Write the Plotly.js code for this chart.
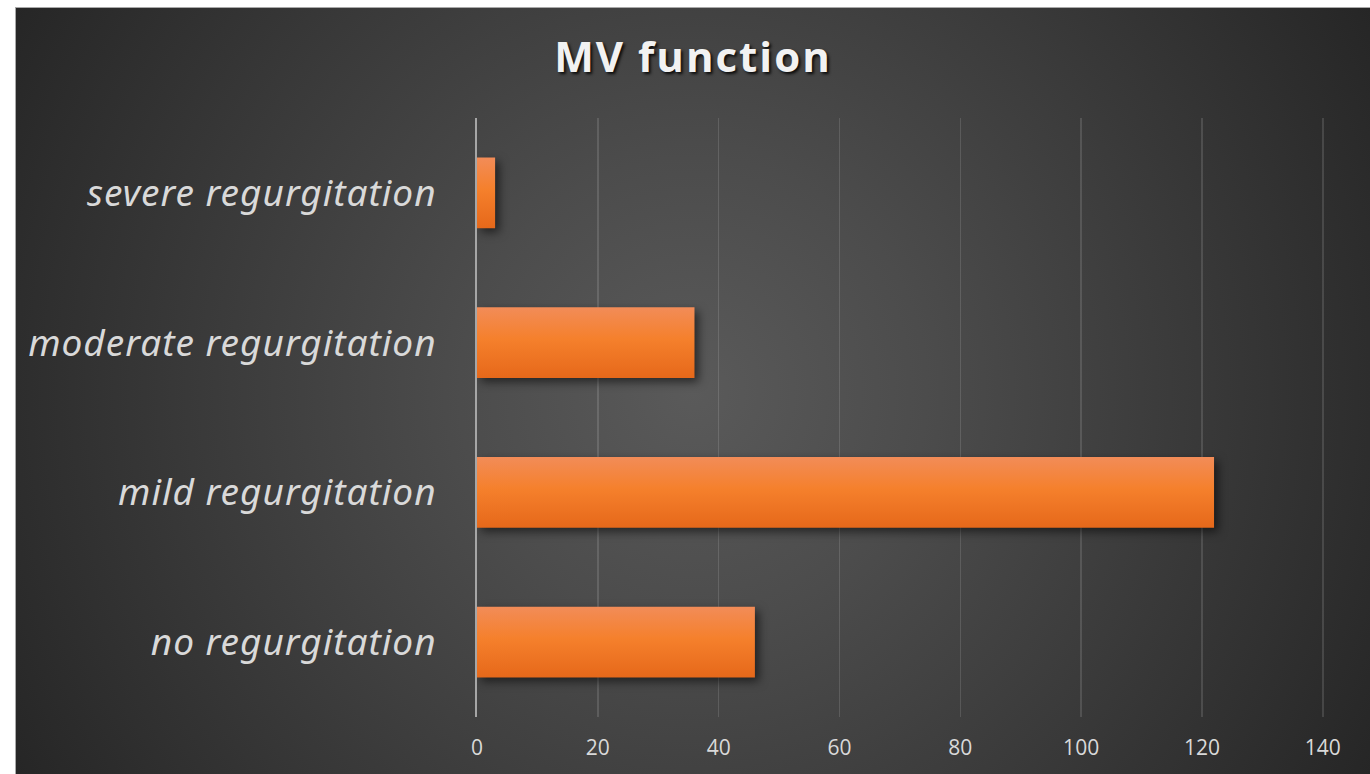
<!DOCTYPE html>
<html>
<head>
<meta charset="utf-8">
<script src="https://cdn.plot.ly/plotly-3.0.1.min.js"></script>
<style>
  html, body { margin: 0; padding: 0; background: #ffffff; width: 1370px; height: 774px; overflow: hidden; }
  #frame {
    position: absolute; left: 15px; top: 7px; width: 1355px; height: 767px;
    box-sizing: border-box; border-top: 1px solid #a9a9a9; border-left: 1px solid #a9a9a9;
    background: radial-gradient(circle farthest-corner at 50% 50%, #5a5a5a 0%, #4c4c4c 30%, #262626 100%);
  }
  #chart { width: 1354px; height: 766px; }
  .gtitle { letter-spacing: 2px; }
  .ytick text { letter-spacing: 1px; }
  .barlayer .point path { filter: drop-shadow(4px 4px 5px rgba(0,0,0,0.55)); }
</style>
</head>
<body>
<div id="frame"><div id="chart"></div></div>
<script>
const categories = ['no regurgitation', 'mild regurgitation', 'moderate regurgitation', 'severe regurgitation'];
const values = [46, 122, 36, 3];
const xTicks = [0, 20, 40, 60, 80, 100, 120, 140];
const chartTitle = 'MV function';

const trace = {
  type: 'bar',
  orientation: 'h',
  y: categories,
  x: values,
  marker: { color: '#f47f2a', line: { width: 0 } },
  hoverinfo: 'none'
};

const layout = {
  width: 1354,
  height: 766,
  paper_bgcolor: 'rgba(0,0,0,0)',
  plot_bgcolor: 'rgba(0,0,0,0)',
  margin: { l: 461, r: 46, t: 109.5, b: 56.5, pad: 0 },
  bargap: 0.527,
  showlegend: false,
  title: {
    text: chartTitle,
    x: 0.5, xanchor: 'center',
    y: 0.936, yanchor: 'middle',
    font: { family: 'Open Sans, sans-serif', size: 42, weight: 700, color: '#f2f2f2', shadow: '2px 2px 3px rgba(0,0,0,0.85)' }
  },
  xaxis: {
    range: [0, 140.2],
    tickvals: xTicks,
    ticktext: xTicks.map(String),
    showgrid: true,
    gridcolor: 'rgba(255,255,255,0.13)',
    gridwidth: 1.5,
    zeroline: false,
    showline: false,
    ticks: '',
    ticklabelstandoff: 16,
    tickfont: { family: 'Open Sans, sans-serif', size: 21, color: '#d9d9d9' },
    fixedrange: true
  },
  yaxis: {
    type: 'category',
    categoryorder: 'array',
    categoryarray: categories,
    range: [-0.5, 3.5],
    showgrid: false,
    zeroline: false,
    showline: true,
    linecolor: '#a6a6a6',
    linewidth: 2,
    ticks: '',
    ticklabelstandoff: 31,
    tickfont: { family: 'Noto Sans, sans-serif', size: 37, style: 'italic', color: '#d9d9d9' },
    fixedrange: true
  }
};

Plotly.newPlot('chart', [trace], layout, { displayModeBar: false, staticPlot: true }).then(function () {
  const svg = document.querySelector('#chart .main-svg');
  const ns = 'http://www.w3.org/2000/svg';
  let defs = svg.querySelector('defs');
  if (!defs) { defs = document.createElementNS(ns, 'defs'); svg.insertBefore(defs, svg.firstChild); }
  const grad = document.createElementNS(ns, 'linearGradient');
  grad.setAttribute('id', 'barGrad');
  grad.setAttribute('x1', '0'); grad.setAttribute('y1', '0');
  grad.setAttribute('x2', '0'); grad.setAttribute('y2', '1');
  [['0%', '#f28c58'], ['45%', '#f5802c'], ['100%', '#e6681a']].forEach(function (s) {
    const st = document.createElementNS(ns, 'stop');
    st.setAttribute('offset', s[0]);
    st.setAttribute('stop-color', s[1]);
    grad.appendChild(st);
  });
  defs.appendChild(grad);
  document.querySelectorAll('#chart .barlayer .point path').forEach(function (p) {
    p.style.fill = 'url(#barGrad)';
  });
});
</script>
</body>
</html>
